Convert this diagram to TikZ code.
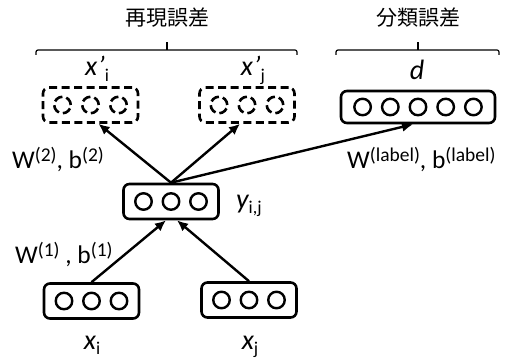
\documentclass[tikz,border=0pt]{standalone}
\usepackage{fontspec}
\setmainfont{Carlito}
\newfontfamily\jpfont{Noto Sans CJK JP}
\usetikzlibrary{arrows.meta,calc}

% upright subscript / superscript pieces for the labels
\newcommand\sbx[1]{\raisebox{-0.2em}{\upshape\fontsize{18}{18}\selectfont #1}}
\newcommand\spx[1]{\raisebox{0.24em}{\fontsize{19.5}{19.5}\selectfont #1}}

\begin{document}
\begin{tikzpicture}[x=1pt,y=-1pt,
  box/.style={draw,line width=2.6pt,rounded corners=6pt,minimum width=95pt,
    minimum height=35pt,inner sep=0pt},
  dbox/.style={box,dash pattern=on 8pt off 4.5pt},
  unit/.style={circle,draw,line width=2.4pt,minimum size=16.5pt,inner sep=0pt},
  dunit/.style={unit,line width=2.6pt,dash pattern=on 9pt off 4pt},
  arr/.style={line width=2.4pt,-{Latex[length=11pt,width=10pt]}},
  brace/.style={line width=1.2pt,rounded corners=2pt},
  var/.style={font=\fontsize{28}{28}\selectfont\itshape,inner sep=0pt,anchor=base},
  wlab/.style={font=\fontsize{25.5}{25.5}\selectfont,inner sep=0pt,anchor=base west},
  title/.style={font=\jpfont\fontsize{21}{21}\selectfont,inner sep=0pt}]
\useasboundingbox (0,0) rectangle (505,358);

% layer boxes
\node[box] (xi) at (91.5,301) {};
\node[box] (xj) at (249,300) {};
\node[box] (yij) at (171,201.5) {};
\node[dbox] (xpi) at (90.5,105) {};
\node[dbox] (xpj) at (247,105) {};
\node[box,minimum width=154pt,minimum height=32pt] (d) at (418,107) {};

% units inside the boxes
\foreach \b in {xi,xj,yij}
  \foreach \k in {-1,0,1}
    \node[unit] (\b-u\k) at ($(\b)+(\k*27.5,0)$) {};
\foreach \b in {xpi,xpj}
  \foreach \k in {-1,0,1}
    \node[dunit] (\b-u\k) at ($(\b)+(\k*28,0)$) {};
\foreach \k in {-2,-1,0,1,2}
  \node[unit] (d-u\k) at ($(d)+(\k*27.7,0)$) {};

% variable labels
\node[var] (lxi) at (92,349) {x\sbx{i}};
\node[var] (lxj) at (250,349) {x\sbx{j}};
\node[var,anchor=base west] (lyij) at (236,208) {y\sbx{i,j}};
\node[var] (lxpi) at (97,76) {x’\sbx{i}};
\node[var] (lxpj) at (253,76) {x’\sbx{j}};
\node[var] (ld) at (417,80) {d};

% weight labels
\node[wlab] (w2) at (12,168) {W\spx{(2)}, b\spx{(2)}};
\node[wlab] (w1) at (15,263) {W\spx{(1)} , b\spx{(1)}};
\node[wlab] (wl) at (347,168) {W\spx{(label)}, b\spx{(label)}};

% error titles and their braces
\node[title] (t1) at (167,18) {再現誤差};
\node[title] (t2) at (418,18) {分類誤差};
\draw[brace] (36,55) -- (36,50) -- (297,50) -- (297,55);
\draw[brace] (167,50) -- (167,42);
\draw[brace] (336,55) -- (336,50) -- (499,50) -- (499,55);
\draw[brace] (418,50) -- (418,42);

% connections
\draw[arr] (yij.north) -- ($(xpi.south)+(8,0)$);
\draw[arr] (yij.north) -- ($(xpj.south)+(-7,0)$);
\draw[arr] (yij.north) -- ($(d.south)+(-5,0)$);
\draw[arr] (xi.north) -- ($(yij.south)+(-5,0)$);
\draw[arr] (xj.north) -- ($(yij.south)+(6,0)$);
\end{tikzpicture}
\end{document}
